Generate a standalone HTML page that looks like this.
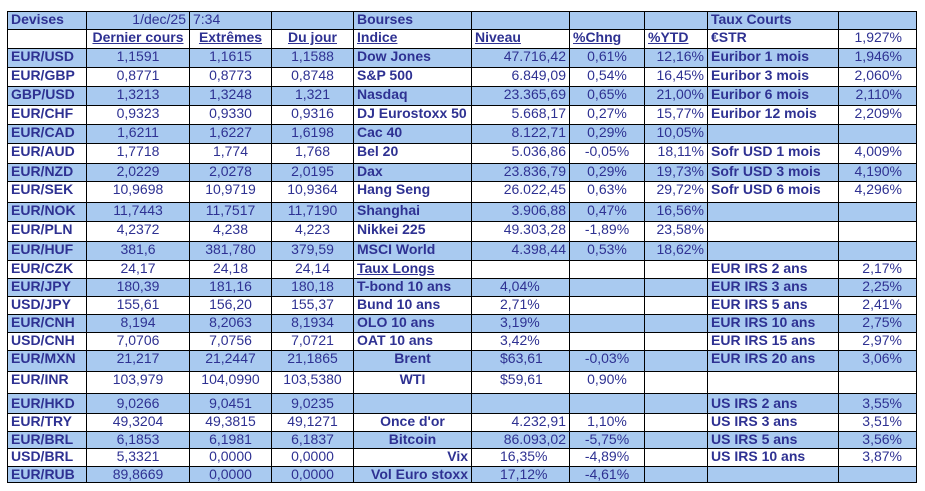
<!DOCTYPE html>
<html><head><meta charset="utf-8"><style>
body{margin:0;background:#fff;width:925px;height:491px;overflow:hidden}
table{position:absolute;left:7px;top:11px;width:909px;border-collapse:collapse;table-layout:fixed;font-family:"Liberation Sans",Arial,sans-serif;font-size:14px;color:#2e3192}
td{border:1.5px solid #000;padding:0 3px;vertical-align:top;line-height:15px;white-space:nowrap;overflow:hidden}
tr.b td{background:#a9caf0}
.l{text-align:left;font-weight:bold}
.c{text-align:center}
.r{text-align:right}
.cb{text-align:center;font-weight:bold}
.rb{text-align:right;font-weight:bold}
.u{text-decoration:underline;font-weight:bold}
.pl{padding-left:28px}
.rr{text-align:right;padding-right:14px}
</style></head><body>
<table>
<colgroup><col style="width:79px"><col style="width:103px"><col style="width:82px"><col style="width:82px"><col style="width:118px"><col style="width:98px"><col style="width:75px"><col style="width:63px"><col style="width:131px"><col style="width:78px"></colgroup>
<tr class="b" style="height:18px"><td class="l">Devises</td><td class="r" style="font-weight:normal">1/dec/25</td><td>7:34</td><td></td><td class="l">Bourses</td><td></td><td></td><td></td><td class="l">Taux Courts</td><td></td></tr>
<tr style="height:19px"><td></td><td class="u c">Dernier cours</td><td class="u c">Extrêmes</td><td class="u c">Du jour</td><td class="u">Indice</td><td class="u">Niveau</td><td class="u">%Chng</td><td class="u">%YTD</td><td class="l">€STR</td><td class="rr">1,927%</td></tr>
<tr class="b" style="height:19px"><td class="l">EUR/USD</td><td class="c">1,1591</td><td class="c">1,1615</td><td class="c">1,1588</td><td class="l">Dow Jones</td><td class="r">47.716,42</td><td class="c">0,61%</td><td class="r">12,16%</td><td class="l">Euribor 1 mois</td><td class="rr">1,946%</td></tr>
<tr style="height:19px"><td class="l">EUR/GBP</td><td class="c">0,8771</td><td class="c">0,8773</td><td class="c">0,8748</td><td class="l">S&amp;P 500</td><td class="r">6.849,09</td><td class="c">0,54%</td><td class="r">16,45%</td><td class="l">Euribor 3 mois</td><td class="rr">2,060%</td></tr>
<tr class="b" style="height:19px"><td class="l">GBP/USD</td><td class="c">1,3213</td><td class="c">1,3248</td><td class="c">1,321</td><td class="l">Nasdaq</td><td class="r">23.365,69</td><td class="c">0,65%</td><td class="r">21,00%</td><td class="l">Euribor 6 mois</td><td class="rr">2,110%</td></tr>
<tr style="height:19px"><td class="l">EUR/CHF</td><td class="c">0,9323</td><td class="c">0,9330</td><td class="c">0,9316</td><td class="l">DJ Eurostoxx 50</td><td class="r">5.668,17</td><td class="c">0,27%</td><td class="r">15,77%</td><td class="l">Euribor 12 mois</td><td class="rr">2,209%</td></tr>
<tr class="b" style="height:19px"><td class="l">EUR/CAD</td><td class="c">1,6211</td><td class="c">1,6227</td><td class="c">1,6198</td><td class="l">Cac 40</td><td class="r">8.122,71</td><td class="c">0,29%</td><td class="r">10,05%</td><td></td><td></td></tr>
<tr style="height:20px"><td class="l">EUR/AUD</td><td class="c">1,7718</td><td class="c">1,774</td><td class="c">1,768</td><td class="l">Bel 20</td><td class="r">5.036,86</td><td class="c">-0,05%</td><td class="r">18,11%</td><td class="l">Sofr USD 1 mois</td><td class="rr">4,009%</td></tr>
<tr class="b" style="height:18px"><td class="l">EUR/NZD</td><td class="c">2,0229</td><td class="c">2,0278</td><td class="c">2,0195</td><td class="l">Dax</td><td class="r">23.836,79</td><td class="c">0,29%</td><td class="r">19,73%</td><td class="l">Sofr USD 3 mois</td><td class="rr">4,190%</td></tr>
<tr style="height:21px"><td class="l">EUR/SEK</td><td class="c">10,9698</td><td class="c">10,9719</td><td class="c">10,9364</td><td class="l">Hang Seng</td><td class="r">26.022,45</td><td class="c">0,63%</td><td class="r">29,72%</td><td class="l">Sofr USD 6 mois</td><td class="rr">4,296%</td></tr>
<tr class="b" style="height:19px"><td class="l">EUR/NOK</td><td class="c">11,7443</td><td class="c">11,7517</td><td class="c">11,7190</td><td class="l">Shanghai</td><td class="r">3.906,88</td><td class="c">0,47%</td><td class="r">16,56%</td><td></td><td></td></tr>
<tr style="height:20px"><td class="l">EUR/PLN</td><td class="c">4,2372</td><td class="c">4,238</td><td class="c">4,223</td><td class="l">Nikkei 225</td><td class="r">49.303,28</td><td class="c">-1,89%</td><td class="r">23,58%</td><td></td><td></td></tr>
<tr class="b" style="height:19px"><td class="l">EUR/HUF</td><td class="c">381,6</td><td class="c">381,780</td><td class="c">379,59</td><td class="l">MSCI World</td><td class="r">4.398,44</td><td class="c">0,53%</td><td class="r">18,62%</td><td></td><td></td></tr>
<tr style="height:18px"><td class="l">EUR/CZK</td><td class="c">24,17</td><td class="c">24,18</td><td class="c">24,14</td><td class="u">Taux Longs</td><td></td><td></td><td></td><td class="l">EUR IRS 2 ans</td><td class="rr">2,17%</td></tr>
<tr class="b" style="height:18px"><td class="l">EUR/JPY</td><td class="c">180,39</td><td class="c">181,16</td><td class="c">180,18</td><td class="l">T-bond 10 ans</td><td class="pl">4,04%</td><td></td><td></td><td class="l">EUR IRS 3 ans</td><td class="rr">2,25%</td></tr>
<tr style="height:18px"><td class="l">USD/JPY</td><td class="c">155,61</td><td class="c">156,20</td><td class="c">155,37</td><td class="l">Bund 10 ans</td><td class="pl">2,71%</td><td></td><td></td><td class="l">EUR IRS 5 ans</td><td class="rr">2,41%</td></tr>
<tr class="b" style="height:18px"><td class="l">EUR/CNH</td><td class="c">8,194</td><td class="c">8,2063</td><td class="c">8,1934</td><td class="l">OLO 10 ans</td><td class="pl">3,19%</td><td></td><td></td><td class="l">EUR IRS 10 ans</td><td class="rr">2,75%</td></tr>
<tr style="height:18px"><td class="l">USD/CNH</td><td class="c">7,0706</td><td class="c">7,0756</td><td class="c">7,0721</td><td class="l">OAT 10 ans</td><td class="pl">3,42%</td><td></td><td></td><td class="l">EUR IRS 15 ans</td><td class="rr">2,97%</td></tr>
<tr class="b" style="height:21px"><td class="l">EUR/MXN</td><td class="c">21,217</td><td class="c">21,2447</td><td class="c">21,1865</td><td class="cb">Brent</td><td class="pl">$63,61</td><td class="c">-0,03%</td><td></td><td class="l">EUR IRS 20 ans</td><td class="rr">3,06%</td></tr>
<tr style="height:22px"><td class="l">EUR/INR</td><td class="c">103,979</td><td class="c">104,0990</td><td class="c">103,5380</td><td class="cb">WTI</td><td class="pl">$59,61</td><td class="c">0,90%</td><td></td><td></td><td></td></tr>
<tr class="b" style="height:20px"><td class="l" style="padding-top:2px">EUR/HKD</td><td class="c" style="padding-top:2px">9,0266</td><td class="c" style="padding-top:2px">9,0451</td><td class="c" style="padding-top:2px">9,0235</td><td></td><td></td><td></td><td></td><td class="l" style="padding-top:2px">US IRS 2 ans</td><td class="rr" style="padding-top:2px">3,55%</td></tr>
<tr style="height:18px"><td class="l">EUR/TRY</td><td class="c">49,3204</td><td class="c">49,3815</td><td class="c">49,1271</td><td class="cb">Once d'or</td><td class="r">4.232,91</td><td class="c">1,10%</td><td></td><td class="l">US IRS 3 ans</td><td class="rr">3,51%</td></tr>
<tr class="b" style="height:17px"><td class="l">EUR/BRL</td><td class="c">6,1853</td><td class="c">6,1981</td><td class="c">6,1837</td><td class="cb">Bitcoin</td><td class="r">86.093,02</td><td class="c">-5,75%</td><td></td><td class="l">US IRS 5 ans</td><td class="rr">3,56%</td></tr>
<tr style="height:18px"><td class="l">USD/BRL</td><td class="c">5,3321</td><td class="c">0,0000</td><td class="c">0,0000</td><td class="rb">Vix</td><td class="pl">16,35%</td><td class="c">-4,89%</td><td></td><td class="l">US IRS 10 ans</td><td class="rr">3,87%</td></tr>
<tr class="b" style="height:16px"><td class="l">EUR/RUB</td><td class="c">89,8669</td><td class="c">0,0000</td><td class="c">0,0000</td><td class="rb">Vol Euro stoxx</td><td class="pl">17,12%</td><td class="c">-4,61%</td><td></td><td></td><td></td></tr>
</table>
</body></html>
